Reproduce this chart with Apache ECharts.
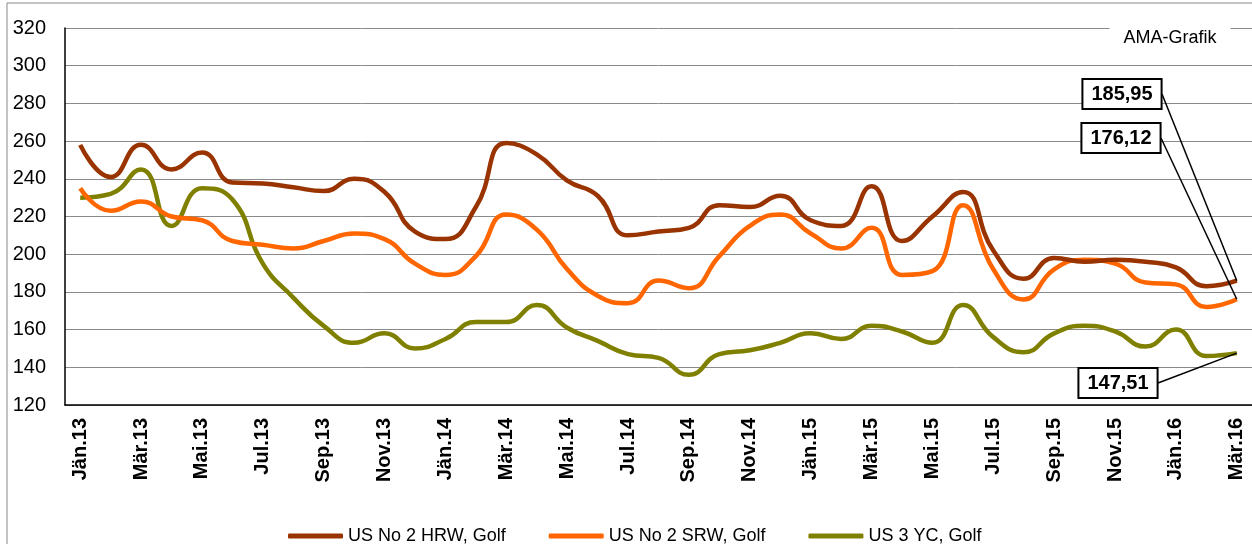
<!DOCTYPE html>
<html>
<head>
<meta charset="utf-8">
<script src="https://cdn.jsdelivr.net/npm/echarts@6/dist/echarts.min.js"></script>
<style>
  html, body { margin: 0; padding: 0; background: #fff; }
  #chart { width: 1252px; height: 544px; }
</style>
</head>
<body>
<div id="chart"></div>
<script>
const months = [
  "Jän.13", "Feb.13", "Mär.13", "Apr.13", "Mai.13", "Jun.13", "Jul.13", "Aug.13", "Sep.13", "Okt.13", "Nov.13", "Dez.13",
  "Jän.14", "Feb.14", "Mär.14", "Apr.14", "Mai.14", "Jun.14", "Jul.14", "Aug.14", "Sep.14", "Okt.14", "Nov.14", "Dez.14",
  "Jän.15", "Feb.15", "Mär.15", "Apr.15", "Mai.15", "Jun.15", "Jul.15", "Aug.15", "Sep.15", "Okt.15", "Nov.15", "Dez.15",
  "Jän.16", "Feb.16", "Mär.16"
];

const hrw = [258, 241, 258, 245, 254, 238, 237.5, 235.5, 233.5, 240, 233, 212,
  208, 225, 259, 253, 239, 231, 210, 212, 214, 226, 225, 231,
  218, 215, 236, 207, 220, 233, 202, 187, 198, 196, 197, 196,
  193, 183, 185.95];

const srw = [235, 223, 228, 220, 218, 207, 205, 203, 207, 211, 208, 195,
  189, 199, 221, 213, 192, 178, 174, 186, 182, 199, 215, 221,
  211, 203, 214, 189, 191, 226, 192, 176, 192, 197, 195, 185,
  184, 172, 176.12];

const yc = [230, 232, 245, 215, 235, 229, 195, 177, 162, 153, 158, 150,
  155, 164, 164, 173, 161, 154, 147, 145, 136, 147, 149, 153,
  158, 155, 162, 159, 153, 173, 156, 148, 158, 162, 159, 151,
  160, 146, 147.51];

const seriesNames = ["US No 2 HRW, Golf", "US No 2 SRW, Golf", "US 3 YC, Golf"];
const seriesColors = ["#993300", "#FF6600", "#808000"];
// centre of the boxes with the last values
const endBoxPos = [[1122, 94], [1121, 138], [1118, 383]];
const endBoxHalfWidth = 40;

const chart = echarts.init(document.getElementById("chart"));

function withEndLabel(values) {
  const last = values.length - 1;
  return values.map((v, i) => {
    if (i !== last) return v;
    return {
      value: v,
      label: {
        show: true,
        formatter: (p) => Number(p.value).toFixed(2).replace(".", ","),
        fontFamily: "Arial, 'Liberation Sans', sans-serif",
        fontSize: 20,
        fontWeight: "bold",
        color: "#000",
        backgroundColor: "#fff",
        borderColor: "#000",
        borderWidth: 2,
        padding: [4, 8],
        lineHeight: 20,
        align: "center",
        verticalAlign: "middle"
      }
    };
  });
}

function makeSeries(idx, values) {
  const last = values.length - 1;
  return {
    name: seriesNames[idx],
    type: "line",
    smooth: 0.5,
    showSymbol: true,
    symbol: "circle",
    symbolSize: 0,
    lineStyle: { color: seriesColors[idx], width: 4.5 },
    itemStyle: { color: seriesColors[idx] },
    data: withEndLabel(values),
    label: { show: false },
    labelLayout: (params) => {
      if (params.dataIndex !== last) return {};
      return {
        x: endBoxPos[idx][0],
        y: endBoxPos[idx][1],
        align: "center",
        verticalAlign: "middle",
        moveOverlap: null
      };
    },
    z: 3 - idx
  };
}

chart.setOption({
  animation: false,
  textStyle: { fontFamily: "Arial, 'Liberation Sans', sans-serif" },
  grid: { left: 65, top: 28, right: 0, bottom: 139 },
  legend: {
    left: 283,
    top: 522,
    icon: "roundRect",
    itemWidth: 55,
    itemHeight: 5,
    itemGap: 43,
    textStyle: { fontSize: 18, color: "#000" },
    data: seriesNames
  },
  xAxis: {
    type: "category",
    data: months,
    boundaryGap: true,
    axisLine: { lineStyle: { color: "#000", width: 1.5 } },
    axisTick: { show: false },
    axisLabel: {
      interval: 1,
      rotate: 90,
      margin: 13,
      fontSize: 20,
      fontWeight: "bold",
      color: "#000"
    }
  },
  yAxis: {
    type: "value",
    min: 120,
    max: 320,
    interval: 20,
    axisLine: { show: true, lineStyle: { color: "#000", width: 1.5 } },
    axisTick: { show: false },
    axisLabel: { fontSize: 20, color: "#000", margin: 19 },
    splitLine: { lineStyle: { color: "#8a8a8a", width: 1 } }
  },
  graphic: [
    {
      id: "frame",
      type: "rect",
      z: -10,
      shape: { x: 7, y: 3, width: 1300, height: 600 },
      style: { fill: "none", stroke: "#888", lineWidth: 1 }
    },
    {
      id: "source",
      type: "text",
      z: 100,
      x: 1170,
      y: 38,
      style: {
        text: "AMA-Grafik",
        fontFamily: "Arial, 'Liberation Sans', sans-serif",
        fontSize: 18,
        fill: "#000",
        align: "center",
        verticalAlign: "middle",
        backgroundColor: "#fff",
        padding: [2, 14]
      }
    }
  ],
  series: [
    makeSeries(0, hrw),
    makeSeries(1, srw),
    makeSeries(2, yc)
  ]
});

// leader lines from the value boxes to the last point of each series
const lastIdx = months.length - 1;
const leaders = [hrw, srw, yc].map((values, idx) => {
  const pt = chart.convertToPixel({ gridIndex: 0 }, [lastIdx, values[lastIdx]]);
  return {
    id: "leader" + idx,
    type: "line",
    z: 50,
    shape: {
      x1: endBoxPos[idx][0] + endBoxHalfWidth,
      y1: endBoxPos[idx][1],
      x2: pt[0],
      y2: pt[1]
    },
    style: { stroke: "#000", lineWidth: 1.5 }
  };
});
chart.setOption({ graphic: leaders });

window.addEventListener("resize", () => chart.resize());
</script>
</body>
</html>
